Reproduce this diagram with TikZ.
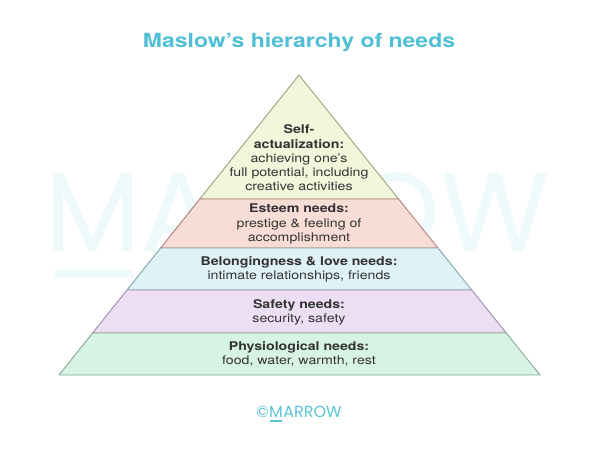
\documentclass[tikz,border=0pt]{standalone}
\usepackage{fontspec}
\setmainfont{TeX Gyre Heros}[FakeStretch=1.18]
\newfontfamily\logofont{Poppins}
\usetikzlibrary{calc,positioning}
\definecolor{titlecyan}{HTML}{4FBFD6}
\definecolor{logocyan}{HTML}{5CC3D6}
\definecolor{markcyan}{HTML}{EEF9FB}
\definecolor{txtgrey}{HTML}{333333}
\definecolor{selfact fill}{HTML}{F2F7DC}
\definecolor{selfact line}{HTML}{9AA37A}
\definecolor{esteem fill}{HTML}{F8DDD6}
\definecolor{esteem line}{HTML}{B07F7A}
\definecolor{belong fill}{HTML}{DFF2F7}
\definecolor{belong line}{HTML}{7FA6AD}
\definecolor{safety fill}{HTML}{ECDFF4}
\definecolor{safety line}{HTML}{A08CAF}
\definecolor{physio fill}{HTML}{D6F3E4}
\definecolor{physio line}{HTML}{8AA89A}
\tikzset{
    band text/.style={
        align=center,
        text=txtgrey,
        inner sep=0pt,
        font=\fontsize{12}{14.2}\selectfont
    },
    water mark/.style={
        inner sep=0pt,
        text=markcyan,
        font=\logofont\fontsize{112}{112}\selectfont
    },
    logo text/.style={
        inner sep=0pt,
        text=logocyan,
        font=\logofont\fontsize{16}{16}\selectfont
    }
}

\begin{document}
\begin{tikzpicture}[x=1pt,y=-1pt]
    \useasboundingbox (0,0) rectangle (600,451);
    % faint watermark behind the pyramid
    \node[water mark, anchor=base west] (wmM) at (44,251) {M};
    \node[water mark, anchor=base west] (wmrest) at (wmM.base east) {ARROW};
    \fill[markcyan] ($(wmM.base west)+(10,19)$) rectangle ($(wmM.base east)+(-8,27)$);

    \node[text=titlecyan, anchor=base, font=\fontsize{19.5}{22}\bfseries] (title) at (299,47) {Maslow’s hierarchy of needs};

    \coordinate (apex) at (299,75);
    \coordinate (bl) at (59,375);
    \coordinate (br) at (540,375);
    \foreach \ta/\tb/\band in {0/0.4133/selfact, 0.4133/0.5767/esteem, 0.5767/0.7167/belong, 0.7167/0.86/safety, 0.86/1/physio}
        \filldraw[fill=\band\space fill, draw=\band\space line, line width=0.9pt, line join=round]
            ($(apex)!\ta!(bl)$) -- ($(apex)!\tb!(bl)$) -- ($(apex)!\tb!(br)$) -- ($(apex)!\ta!(br)$) -- cycle;

    \node[band text] (selfact) at (299,158) {\textbf{Self-}\\\textbf{actualization:}\\achieving one’s\\full potential, including\\creative activities};
    \node[band text] (esteem) at (299,224) {\textbf{Esteem needs:}\\prestige \& feeling of\\accomplishment};
    \node[band text] (belong) at (299,269) {\textbf{Belongingness \& love needs:}\\intimate relationships, friends};
    \node[band text] (safety) at (299,312) {\textbf{Safety needs:}\\security, safety};
    \node[band text] (physio) at (299,354) {\textbf{Physiological needs:}\\food, water, warmth, rest};

    % logo
    \node[logo text, anchor=base west] (logoM) at (269,417) {M};
    \node[logo text, anchor=base east] (logocopy) at (logoM.base west) {©};
    \node[logo text, anchor=base west] (logorest) at (logoM.base east) {ARROW};
    \draw[logocyan, line width=1.2pt] ($(logoM.base west)+(1,4)$) -- ($(logoM.base east)+(-1,4)$);
\end{tikzpicture}
\end{document}
